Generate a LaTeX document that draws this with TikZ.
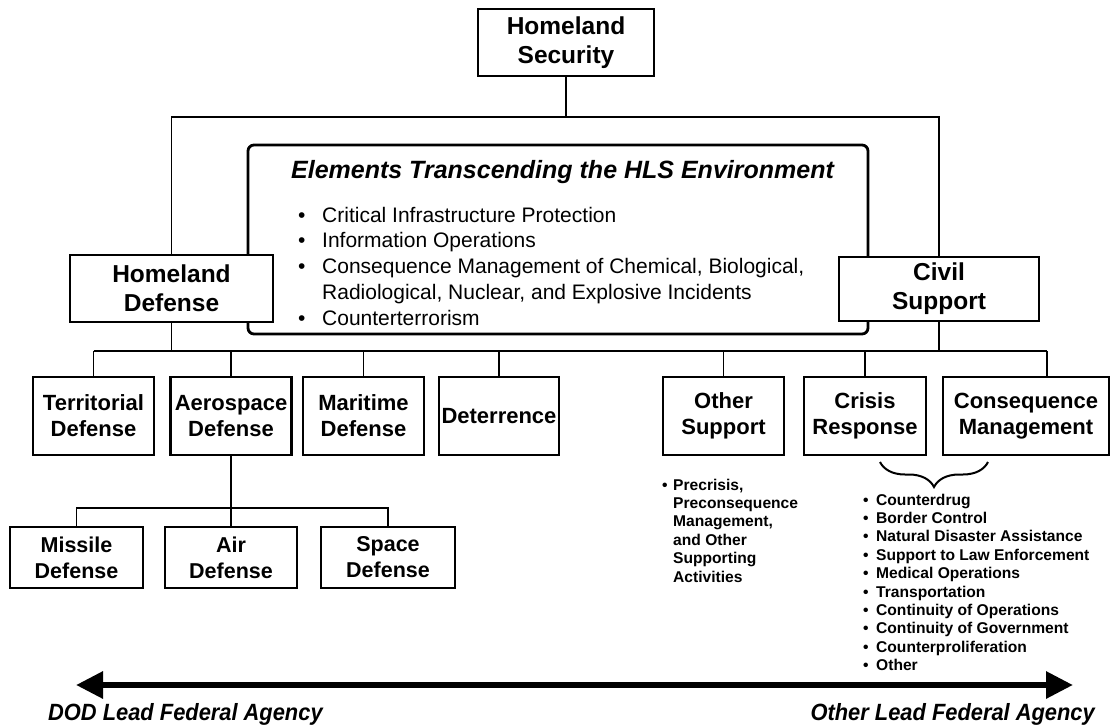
\documentclass[tikz,border=0pt]{standalone}
\usepackage{fontspec}
\setmainfont{Liberation Sans}
\newfontfamily\narrowfont[FakeStretch=0.93]{Liberation Sans}
\usetikzlibrary{arrows.meta,decorations.pathreplacing}
\begin{document}
\begin{tikzpicture}[x=1pt,y=-1pt,
  box/.style={draw, line width=2.8pt, fill=white, align=center, inner sep=0pt},
  topbox/.style={box, font=\bfseries\fontsize{24.5}{29}\selectfont},
  midbox/.style={box, minimum height=78pt, font=\bfseries\fontsize{22}{26}\selectfont},
  lowbox/.style={box, minimum height=61pt, font=\bfseries\fontsize{21.5}{26}\selectfont},
  hlsbox/.style={draw, line width=2.8pt, rounded corners=6pt, inner sep=0pt},
  conn/.style={line width=1.8pt},
  plain/.style={inner sep=0pt, align=left},
  biglist/.style={plain, font=\fontsize{21}{25.75}\selectfont},
  smalllist/.style={plain, font=\bfseries\fontsize{15.6}{18.4}\selectfont},
  axislabel/.style={inner sep=0pt, font=\narrowfont\bfseries\itshape\fontsize{23.5}{28}\selectfont},
  bigarrow/.style={line width=6pt, {Triangle[length=27pt,width=26pt]}-{Triangle[length=27pt,width=26pt]}},
  bracestyle/.style={line width=2pt, decorate, decoration={brace, amplitude=25pt}}
]
\useasboundingbox (0,0) rectangle (1112,724);

% top
\node[topbox, minimum width=176pt, minimum height=67pt] (hs) at (566,42.5) {Homeland\\Security};

% elements box
\node[hlsbox, minimum width=620pt, minimum height=189pt] (hls) at (558,239.5) {};
\node[inner sep=0pt, anchor=base, font=\bfseries\itshape\fontsize{25}{30}\selectfont] (hlstitle) at (562.5,178) {Elements Transcending the HLS Environment};
\node[biglist, anchor=base west] (hlslist) at (298,222) {\begin{tabular}[t]{@{}l@{}l@{}}
\makebox[24pt][l]{•} & Critical Infrastructure Protection\\
\makebox[24pt][l]{•} & Information Operations\\
\makebox[24pt][l]{•} & Consequence Management of Chemical, Biological,\\
 & Radiological, Nuclear, and Explosive Incidents\\
\makebox[24pt][l]{•} & Counterterrorism
\end{tabular}};

% level 1
\node[topbox, minimum width=203pt, minimum height=67pt] (hd) at (171.5,288.5) {Homeland\\Defense};
\node[topbox, minimum width=200pt, minimum height=64pt] (cs) at (939,289) {Civil\\Support};

\coordinate (tb) at (0,117);
\draw[conn] (hs.south) -- (hs.south |- tb);
\draw[conn] (hd.north) |- (cs.north |- tb) -- (cs.north);

% level 2
\node[midbox, minimum width=121pt] (terr) at (93.5,416) {Territorial\\Defense};
\node[midbox, minimum width=121pt] (aero) at (231,416) {Aerospace\\Defense};
\node[midbox, minimum width=121pt] (mari) at (363.5,416) {Maritime\\Defense};
\node[midbox, minimum width=120pt] (dete) at (499,416) {Deterrence};
\node[midbox, minimum width=121pt] (oth) at (723.5,416) {Other\\Support};
\node[midbox, minimum width=122pt] (cris) at (865,416) {Crisis\\Response};
\node[midbox, minimum width=166pt] (cons) at (1026,416) {Consequence\\Management};

\coordinate (busL) at (93.5,351);
\coordinate (consTop) at ([xshift=21pt]cons.north);
\draw[conn] (busL) -- (consTop |- busL);
\draw[conn] (hd.south) -- (hd.south |- busL);
\draw[conn] (cs.south) -- (cs.south |- busL);
\foreach \n in {terr,aero,mari,dete,oth,cris}{
  \draw[conn] (\n.north) -- (\n.north |- busL);
}
\draw[conn] (consTop) -- (consTop |- busL);

% level 3
\node[lowbox, minimum width=133pt] (mis) at (76.5,557.5) {Missile\\Defense};
\node[lowbox, minimum width=132pt] (air) at (231,557.5) {Air\\Defense};
\node[lowbox, minimum width=134pt] (spa) at (388,557.5) {Space\\Defense};
\coordinate (lb) at (0,508);
\draw[conn] (aero.south) -- (air.north);
\draw[conn] (mis.north) |- (spa.north |- lb) -- (spa.north);

% lists
\node[smalllist, anchor=base west] (othlist) at (662,490) {\begin{tabular}[t]{@{}l@{}l@{}}
\makebox[11pt][l]{•} & Precrisis,\\
 & Preconsequence\\
 & Management,\\
 & and Other\\
 & Supporting\\
 & Activities
\end{tabular}};

\coordinate (brR) at (988,462);
\coordinate (brL) at (880,462);
\draw[bracestyle] (brR) -- (brL);

\node[smalllist, anchor=base west] (conslist) at (863,505) {\begin{tabular}[t]{@{}l@{}l@{}}
\makebox[13pt][l]{•} & Counterdrug\\
\makebox[13pt][l]{•} & Border Control\\
\makebox[13pt][l]{•} & Natural Disaster Assistance\\
\makebox[13pt][l]{•} & Support to Law Enforcement\\
\makebox[13pt][l]{•} & Medical Operations\\
\makebox[13pt][l]{•} & Transportation\\
\makebox[13pt][l]{•} & Continuity of Operations\\
\makebox[13pt][l]{•} & Continuity of Government\\
\makebox[13pt][l]{•} & Counterproliferation\\
\makebox[13pt][l]{•} & Other
\end{tabular}};

% axis arrow
\coordinate (aL) at (76,685);
\coordinate (aR) at (1073,685);
\draw[bigarrow] (aL) -- (aR);
\node[axislabel, anchor=base west] (dod) at (48,720) {DOD Lead Federal Agency};
\node[axislabel, anchor=base east] (other) at (1095,720) {Other Lead Federal Agency};
\end{tikzpicture}
\end{document}
